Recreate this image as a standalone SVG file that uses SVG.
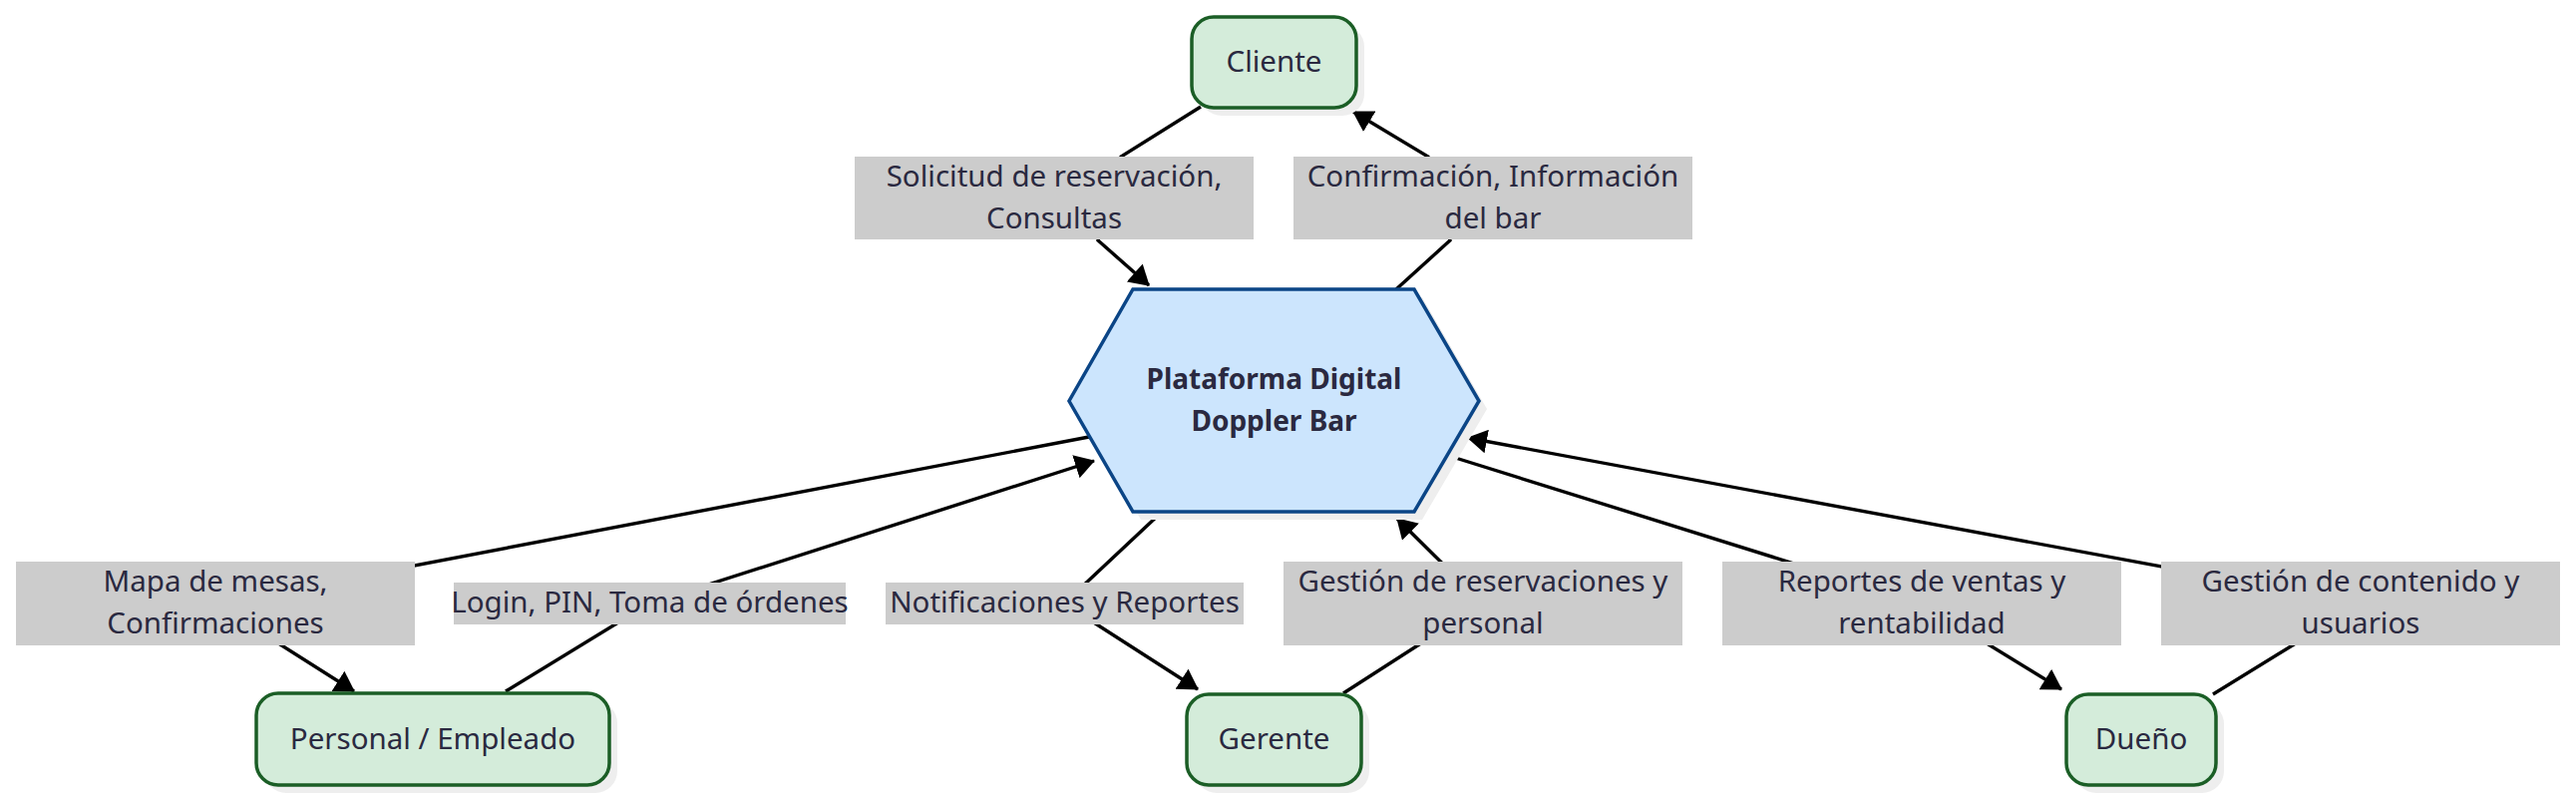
<svg xmlns="http://www.w3.org/2000/svg" width="2583" height="804" viewBox="0 0 2583 804">
<defs>
<style>
.actor rect.body{fill:#d4ecda;stroke:#1b5e26;stroke-width:3.5}
.shadow{fill:#eeeeee}
.hex{fill:#cce5fd;stroke:#0b4586;stroke-width:3.5}
.t{font-family:"Noto Sans","Open Sans","Liberation Sans",sans-serif;font-size:29.5px;letter-spacing:0px;fill:#2a2940;text-anchor:middle}
.tb{font-family:"Noto Sans","Open Sans","Liberation Sans",sans-serif;font-size:28px;font-weight:bold;fill:#2a2940;text-anchor:middle}
.edge{fill:none;stroke:#000;stroke-width:3.4}
.lbl rect{fill:#cccccc}
</style>
<marker id="arrow" viewBox="0 0 20 24" markerWidth="20" markerHeight="24" refX="19" refY="12" orient="auto" markerUnits="userSpaceOnUse">
<path d="M0,0 L20,12 L0,24 z" fill="#000"/>
</marker>
</defs>
<rect width="2583" height="804" fill="#ffffff"/>

<g id="connectors">
<path class="edge" d="M1204,107 L1124,157 L1101,241 L1152,286" marker-end="url(#arrow)"/>
<path class="edge" d="M1400,290 L1454,241 L1432,157 L1357,112" marker-end="url(#arrow)"/>
<path class="edge" d="M1092,438 L216,605 L355,693" marker-end="url(#arrow)"/>
<path class="edge" d="M507,693 L651,605 L1097,462" marker-end="url(#arrow)"/>
<path class="edge" d="M1163,515 L1067,605 L1201,691" marker-end="url(#arrow)"/>
<path class="edge" d="M1347,695 L1487,605 L1401,520" marker-end="url(#arrow)"/>
<path class="edge" d="M1453,457 L1927,605 L2067,691" marker-end="url(#arrow)"/>
<path class="edge" d="M2219,696 L2367,605 L1472,439" marker-end="url(#arrow)"/>
</g>

<g id="edge-labels">
<g class="lbl" id="lbl-solicitud"><rect x="857" y="157" width="400" height="83"/><text class="t" x="1057" y="187">Solicitud de reservación,</text><text class="t" x="1057" y="229">Consultas</text></g>
<g class="lbl" id="lbl-confirmacion"><rect x="1297" y="157" width="400" height="83"/><text class="t" x="1497" y="187">Confirmación, Información</text><text class="t" x="1497" y="229">del bar</text></g>
<g class="lbl" id="lbl-mapa"><rect x="16" y="563" width="400" height="84"/><text class="t" x="216" y="593">Mapa de mesas,</text><text class="t" x="216" y="635">Confirmaciones</text></g>
<g class="lbl" id="lbl-login"><rect x="455" y="584" width="393" height="42"/><text class="t" x="651.5" y="614">Login, PIN, Toma de órdenes</text></g>
<g class="lbl" id="lbl-notif"><rect x="888" y="584" width="359" height="42"/><text class="t" x="1067.5" y="614">Notificaciones y Reportes</text></g>
<g class="lbl" id="lbl-gestres"><rect x="1287" y="563" width="400" height="84"/><text class="t" x="1487" y="593">Gestión de reservaciones y</text><text class="t" x="1487" y="635">personal</text></g>
<g class="lbl" id="lbl-reportes"><rect x="1727" y="563" width="400" height="84"/><text class="t" x="1927" y="593">Reportes de ventas y</text><text class="t" x="1927" y="635">rentabilidad</text></g>
<g class="lbl" id="lbl-gestcont"><rect x="2167" y="563" width="400" height="84"/><text class="t" x="2367" y="593">Gestión de contenido y</text><text class="t" x="2367" y="635">usuarios</text></g>
</g>

<g id="node-plataforma">
<polygon class="shadow" points="1144,298 1426,298 1491,410 1426,521 1144,521 1080,410"/>
<polygon class="hex" points="1136,290 1418,290 1483,402 1418,513 1136,513 1072,402"/>
<text class="tb" x="1277.5" y="390">Plataforma Digital</text>
<text class="tb" x="1277.5" y="432">Doppler Bar</text>
</g>

<g id="node-cliente" class="actor">
<rect class="shadow" x="1203" y="25" width="165" height="91" rx="22"/>
<rect class="body" x="1195" y="17" width="165" height="91" rx="22"/>
<text class="t" x="1277.5" y="72">Cliente</text>
</g>

<g id="node-personal" class="actor">
<rect class="shadow" x="265" y="703" width="354" height="92" rx="22"/>
<rect class="body" x="257" y="695" width="354" height="92" rx="22"/>
<text class="t" x="434" y="751">Personal / Empleado</text>
</g>

<g id="node-gerente" class="actor">
<rect class="shadow" x="1198" y="704" width="175" height="91" rx="22"/>
<rect class="body" x="1190" y="696" width="175" height="91" rx="22"/>
<text class="t" x="1277.5" y="751">Gerente</text>
</g>

<g id="node-dueno" class="actor">
<rect class="shadow" x="2080" y="704" width="150" height="91" rx="22"/>
<rect class="body" x="2072" y="696" width="150" height="91" rx="22"/>
<text class="t" x="2147" y="751">Dueño</text>
</g>
</svg>
